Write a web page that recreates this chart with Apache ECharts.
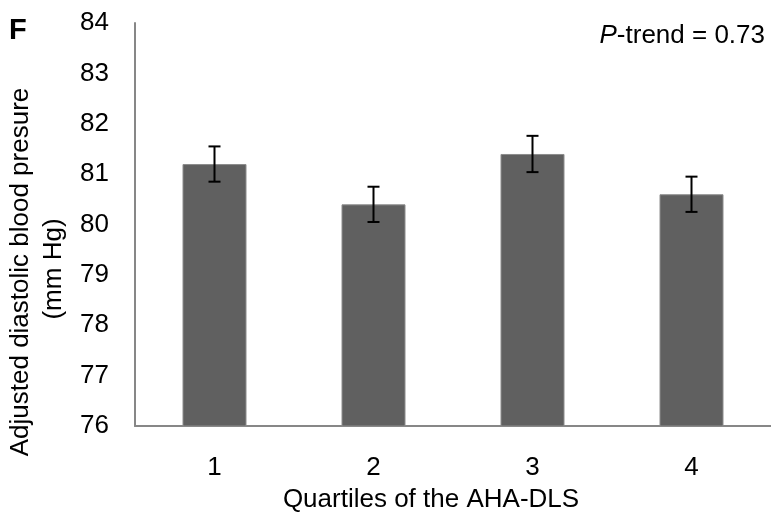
<!DOCTYPE html>
<html>
<head>
<meta charset="utf-8">
<script src="https://cdn.jsdelivr.net/npm/echarts@6/dist/echarts.min.js"></script>
<style>
  html, body { margin: 0; padding: 0; background: #fff; }
  #chart { width: 771px; height: 521px; }
</style>
</head>
<body>
<div id="chart"></div>
<script>
// quartiles and adjusted means (mm Hg) with error
var quartiles = ["1", "2", "3", "4"];
var means = [81.2, 80.4, 81.4, 80.6];
var errors = [0.35, 0.35, 0.36, 0.35];
var yTicks = [76, 84, 1]; // min, max, interval

var font = "'Liberation Sans', Arial, sans-serif";
var myChart = echarts.init(document.getElementById("chart"));

var errData = means.map(function(m, i) {
  return [i, m - errors[i], m + errors[i]];
});

var option = {
  animation: false,
  backgroundColor: "#fff",
  grid: { left: 135, top: 23, width: 641, bottom: 95, containLabel: false },
  xAxis: {
    type: "category",
    data: quartiles,
    axisLine: { lineStyle: { color: "#878787", width: 2 } },
    axisTick: { show: false },
    axisLabel: { fontFamily: font, fontSize: 26, color: "#000", margin: 29 }
  },
  yAxis: {
    type: "value",
    min: yTicks[0],
    max: yTicks[1],
    interval: yTicks[2],
    axisLine: { show: true, lineStyle: { color: "#878787", width: 2 } },
    axisTick: { show: false },
    splitLine: { show: false },
    axisLabel: { fontFamily: font, fontSize: 26, color: "#000", margin: 26 }
  },
  graphic: [
    {
      type: "text", x: 21, y: 272, rotation: Math.PI / 2,
      style: { text: "Adjusted diastolic blood presure", font: "26px " + font,
        fill: "#000", textAlign: "center", textVerticalAlign: "middle" }
    },
    {
      type: "text", x: 54, y: 269, rotation: Math.PI / 2,
      style: { text: "(mm Hg)", font: "26px " + font,
        fill: "#000", textAlign: "center", textVerticalAlign: "middle" }
    },
    {
      type: "text", x: 431, y: 500,
      style: { text: "Quartiles of the AHA-DLS", font: "26px " + font,
        fill: "#000", textAlign: "center", textVerticalAlign: "middle" }
    },
    {
      type: "text", x: 9, y: 31,
      style: { text: "F", font: "bold 29px " + font, fill: "#000",
        textAlign: "left", textVerticalAlign: "middle" }
    },
    {
      type: "text", x: 765, y: 36,
      style: {
        text: "{i|P}-trend = 0.73",
        font: "26px " + font, fill: "#000",
        textAlign: "right", textVerticalAlign: "middle",
        rich: { i: { fontStyle: "italic", fontFamily: font, fontSize: 26 } }
      }
    }
  ],
  series: [
    {
      type: "bar",
      data: means,
      barWidth: 64,
      itemStyle: { color: "#606060", borderColor: "#8c8c8c", borderWidth: 1 }
    },
    {
      type: "custom",
      data: errData,
      z: 10,
      renderItem: function(params, api) {
        var x = api.value(0);
        var lo = api.coord([x, api.value(1)]);
        var hi = api.coord([x, api.value(2)]);
        var cap = 6;
        var st = { stroke: "#000", lineWidth: 2 };
        return {
          type: "group",
          children: [
            { type: "line", shape: { x1: lo[0], y1: lo[1], x2: hi[0], y2: hi[1] }, style: st },
            { type: "line", shape: { x1: hi[0] - cap, y1: hi[1], x2: hi[0] + cap, y2: hi[1] }, style: st },
            { type: "line", shape: { x1: lo[0] - cap, y1: lo[1], x2: lo[0] + cap, y2: lo[1] }, style: st }
          ]
        };
      }
    }
  ]
};

myChart.setOption(option);
</script>
</body>
</html>
